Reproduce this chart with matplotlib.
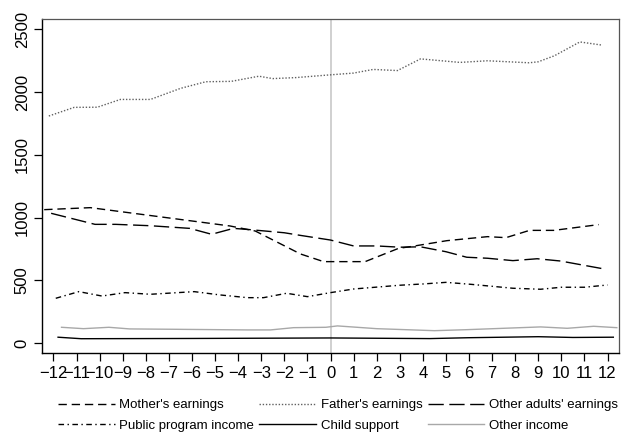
import matplotlib
matplotlib.use("Agg")
import matplotlib.pyplot as plt

plt.rcParams['font.family'] = ['Liberation Sans', 'DejaVu Sans']

# event-time income components (months relative to event)
mother_x = [-12.4, -10.4, -4.35, -3.26, -1.3, -0.3, 1.5, 2.95, 3.45, 5.04, 6.8, 7.6, 8.62, 9.67, 11.62]
mother_y = [1064, 1080, 934, 894, 711, 650, 650, 756, 769, 817, 849, 841, 899, 899, 945]

father_x = [-12.2, -11.1, -10.1, -9.1, -7.8, -6.5, -5.4, -4.3, -3.1, -2.5, -1.5, 0.0, 1.0, 1.85,
            2.9, 3.9, 5.6, 6.8, 8.6, 9.0, 9.7, 10.8, 11.75]
father_y = [1810, 1879, 1880, 1942, 1942, 2030, 2083, 2086, 2127, 2108, 2116, 2138, 2152, 2181,
            2172, 2265, 2237, 2250, 2234, 2242, 2290, 2400, 2375]

adults_x = [-12.1, -10.2, -9.3, -7.8, -6.1, -5.15, -4.2, -3.5, -2.0, -1.3, 0.0, 1.0, 2.0, 3.0,
            3.9, 5.0, 5.9, 6.8, 7.9, 8.95, 9.96, 11.9]
adults_y = [1035, 947, 947, 936, 915, 868, 915, 905, 880, 859, 822, 775, 775, 765,
            768, 729, 685, 677, 658, 673, 655, 590]

public_x = [-11.9, -10.9, -9.9, -8.9, -7.8, -5.9, -4.8, -3.6, -2.9, -1.9, -1.0, 0.0, 1.0, 3.0,
            4.0, 5.0, 6.1, 7.9, 9.1, 10.0, 11.0, 12.0]
public_y = [358, 411, 376, 403, 390, 411, 385, 363, 363, 398, 371, 403, 432, 462,
            472, 485, 469, 438, 430, 446, 446, 464]

child_x = [-11.8, -10.8, -6.0, 0.0, 4.3, 6.0, 9.0, 10.5, 12.25]
child_y = [48, 36, 38, 42, 37, 44, 52, 46, 48]

other_x = [-11.65, -10.7, -9.6, -8.7, -6.7, -3.6, -2.6, -1.6, -0.2, 0.3, 2.0, 4.5, 5.9, 9.1,
           10.25, 11.4, 12.4]
other_y = [127, 116, 127, 114, 111, 106, 106, 124, 127, 138, 116, 100, 108, 130,
           119, 135, 124]

xticks = list(range(-12, 13))
yticks = [0, 500, 1000, 1500, 2000, 2500]

fig = plt.figure(figsize=(6.23, 4.34), dpi=100)
ax = fig.add_axes([0.068, 0.186, 0.925, 0.770])

ax.axvline(0, color='#c4c4c4', lw=1.1, zorder=1)

lw = 1.0
l_mother, = ax.plot(mother_x, mother_y, color='black', lw=lw, ls=(0, (6, 3.5)), label="Mother's earnings")
l_father, = ax.plot(father_x, father_y, color='#606060', lw=lw, ls=(0, (1, 1.3)), label="Father's earnings")
l_adults, = ax.plot(adults_x, adults_y, color='black', lw=lw, ls=(0, (11, 4)), label="Other adults' earnings")
l_public, = ax.plot(public_x, public_y, color='black', lw=lw, ls=(0, (4, 2.5, 1, 2.5)), label="Public program income")
l_child, = ax.plot(child_x, child_y, color='black', lw=lw, label="Child support")
l_other, = ax.plot(other_x, other_y, color='#a8a8a8', lw=lw, label="Other income")

ax.set_xlim(-12.48, 12.48)
ax.set_ylim(-80, 2582)
ax.set_xticks(xticks)
ax.set_xticklabels([str(t).replace('-', '\u2212') for t in xticks], fontsize=12)
ax.set_yticks(yticks)
ax.set_yticklabels([str(t) for t in yticks], fontsize=12, rotation=90, va='center')
ax.tick_params(length=6, width=0.9, color='black', pad=3)

for side in ['left', 'bottom']:
    ax.spines[side].set_color('black')
    ax.spines[side].set_linewidth(1.0)
for side in ['top', 'right']:
    ax.spines[side].set_color('#555555')
    ax.spines[side].set_linewidth(0.9)

handles = [l_mother, l_public, l_father, l_child, l_adults, l_other]
fig.legend(handles=handles, labels=[h.get_label() for h in handles], ncol=3,
           loc='lower left', bbox_to_anchor=(0.09, 0.0, 0.905, 0.1), mode='expand',
           frameon=False, fontsize=9.5, handlelength=4.3, handletextpad=0.35,
           labelspacing=0.65, borderaxespad=0.05, borderpad=0.1)

fig.savefig('out.png', dpi=100)
